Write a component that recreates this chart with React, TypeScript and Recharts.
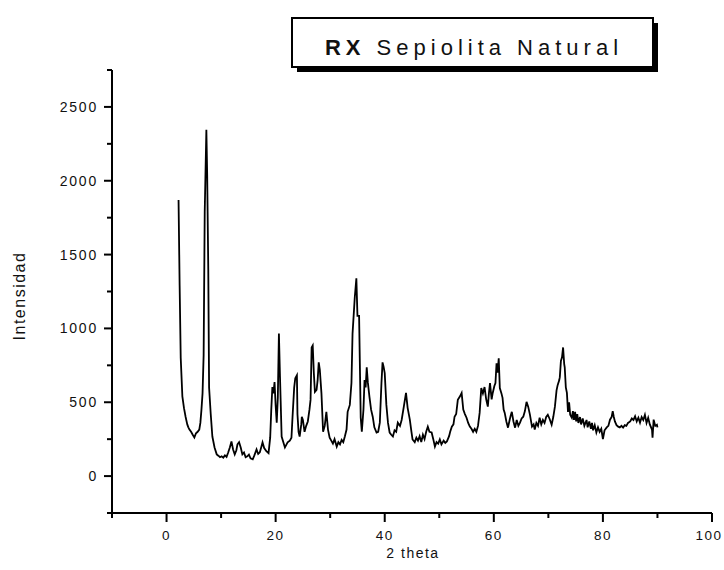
import React from 'react';
import { LineChart, Line, XAxis, YAxis } from 'recharts';

// difractograma de la sepiolita natural: [2 theta, intensidad]
const scanLow: [number, number][] = [
  [2.2, 1870], [2.4, 1290], [2.6, 800], [2.9, 540], [3.2, 460], [3.5, 400],
  [3.8, 350], [4.0, 330], [4.2, 315], [4.5, 300], [4.8, 280], [5.1, 262],
  [5.4, 290], [5.7, 300], [6.0, 315], [6.2, 360], [6.4, 450], [6.6, 560],
  [6.8, 820], [7.0, 1790], [7.3, 2345], [7.45, 2040], [7.65, 1400], [7.8, 600],
  [8.1, 420], [8.4, 268], [8.8, 194], [9.2, 147],
];

const scanMid: [number, number][] = [
  [9.5, 138], [9.8, 128], [10.1, 134], [10.4, 125], [10.7, 140], [11.0, 130],
  [11.3, 160], [11.6, 194], [11.9, 235], [12.2, 180], [12.5, 147], [12.8, 175],
  [13.0, 215], [13.3, 230], [13.6, 194], [13.9, 147], [14.2, 160], [14.5, 128],
  [14.8, 134], [15.1, 145], [15.4, 120], [15.8, 114], [16.1, 140], [16.5, 181],
  [16.8, 150], [17.1, 161], [17.4, 200], [17.6, 228], [17.9, 190], [18.3, 168],
  [18.7, 155], [19.0, 260], [19.2, 450], [19.4, 603], [19.6, 560], [19.8, 636],
  [20.0, 480], [20.2, 362], [20.4, 530], [20.6, 965], [20.8, 670], [21.1, 268],
  [21.4, 230], [21.7, 194], [22.0, 215], [22.2, 228], [22.6, 240], [22.9, 260],
  [23.1, 402], [23.4, 600], [23.6, 663], [23.9, 683], [24.0, 420], [24.2, 300],
  [24.4, 268], [24.7, 350], [24.8, 402], [25.0, 380], [25.3, 300], [25.6, 340],
  [25.9, 370], [26.2, 450], [26.4, 516], [26.6, 871], [26.8, 884], [27.0, 700],
  [27.2, 570], [27.5, 583], [27.7, 650], [27.9, 770], [28.1, 720], [28.4, 560],
  [28.7, 300], [29.0, 340], [29.3, 435], [29.6, 315], [29.9, 260],
];

const scanHigh: [number, number][] = [
  [30.2, 240], [30.5, 220], [30.8, 250], [31.2, 200], [31.5, 230], [31.8, 215],
  [32.1, 245], [32.4, 230], [32.7, 270], [33.0, 315], [33.2, 435], [33.6, 482],
  [33.9, 630], [34.1, 965], [34.5, 1206], [34.8, 1340], [35.0, 1085], [35.3, 1085],
  [35.6, 395], [35.8, 300], [36.1, 450], [36.3, 650], [36.5, 600], [36.7, 737],
  [36.9, 636], [37.2, 536], [37.5, 450], [37.8, 402], [38.1, 330], [38.5, 295],
  [38.8, 300], [39.1, 362], [39.4, 630], [39.6, 770], [39.8, 740], [40.0, 697],
  [40.3, 482], [40.6, 360], [40.9, 295], [41.2, 280], [41.5, 268], [41.8, 310],
  [42.1, 300], [42.4, 362], [42.8, 340], [43.1, 380], [43.5, 470], [43.9, 563],
  [44.2, 462], [44.6, 382], [44.9, 300], [45.1, 248], [45.5, 230], [45.8, 260],
  [46.1, 240], [46.4, 270], [46.7, 230], [47.0, 280], [47.3, 250], [47.6, 300],
  [47.9, 335], [48.2, 300], [48.6, 295], [48.9, 250], [49.2, 200], [49.5, 230],
  [49.8, 220], [50.1, 248], [50.4, 215], [50.8, 240], [51.1, 225], [51.4, 235],
  [51.8, 270], [52.0, 300], [52.3, 335], [52.6, 350], [52.8, 402], [53.1, 420],
  [53.4, 516], [53.8, 540], [54.1, 563], [54.4, 450], [54.7, 420], [55.0, 395],
  [55.3, 360], [55.6, 335], [55.9, 320], [56.2, 300], [56.5, 320], [56.8, 300],
  [57.1, 340], [57.4, 428], [57.7, 596], [58.0, 560], [58.3, 603], [58.6, 520],
  [58.9, 470], [59.1, 560], [59.3, 630], [59.6, 520], [59.8, 563],
];

const scanTail: [number, number][] = [
  [60.1, 610], [60.3, 630], [60.5, 764], [60.7, 700], [60.9, 797], [61.1, 596],
  [61.4, 560], [61.6, 530], [61.8, 450], [62.0, 428], [62.3, 370], [62.6, 328],
  [62.9, 380], [63.1, 410], [63.3, 435], [63.6, 370], [63.9, 328], [64.2, 380],
  [64.5, 340], [64.8, 362], [65.1, 390], [65.4, 402], [65.7, 440], [66.0, 503],
  [66.3, 470], [66.6, 420], [67.0, 335], [67.3, 350], [67.5, 315], [67.8, 360],
  [68.1, 340], [68.4, 395], [68.7, 350], [69.0, 380], [69.3, 360], [69.6, 400],
  [69.9, 415], [70.2, 390], [70.6, 348], [70.9, 400], [71.2, 470], [71.5, 580],
  [71.7, 616], [72.0, 650], [72.1, 670], [72.3, 780], [72.5, 804], [72.7, 871],
  [72.9, 760], [73.0, 737], [73.2, 600], [73.4, 563], [73.6, 435], [73.8, 500],
  [74.0, 415], [74.3, 395], [74.5, 440], [74.7, 380], [74.9, 435], [75.1, 370],
  [75.3, 420], [75.5, 360], [75.8, 400], [76.0, 350], [76.3, 390], [76.6, 340],
  [77.0, 380], [77.2, 330], [77.5, 370], [77.8, 320], [78.0, 360], [78.2, 310],
  [78.5, 345], [78.8, 295], [79.1, 330], [79.4, 300], [79.7, 320], [80.0, 250],
  [80.3, 310], [80.7, 330], [81.0, 340], [81.3, 382], [81.6, 400], [81.8, 440],
  [82.0, 400], [82.2, 370], [82.5, 345], [82.8, 335], [83.1, 330], [83.4, 340],
  [83.7, 328], [84.0, 345], [84.3, 340], [84.6, 360], [85.0, 370], [85.3, 390],
  [85.6, 380], [85.9, 405], [86.2, 370], [86.5, 395], [86.8, 362], [87.1, 400],
  [87.4, 380], [87.7, 415], [88.0, 360], [88.3, 395], [88.6, 350], [89.0, 315],
  [89.1, 260], [89.3, 382], [89.6, 340], [89.9, 348], [90.0, 330],
];

const xTicks = [-10, 0, 10, 20, 30, 40, 50, 60, 70, 80, 90, 100];
const yTicks = [-250, 0, 250, 500, 750, 1000, 1250, 1500, 1750, 2000, 2250, 2500, 2750];

const data = [...scanLow, ...scanMid, ...scanHigh, ...scanTail].map(([t, i]) => ({ t, i }));

const font = '"Liberation Sans", Arial, sans-serif';

const XTick = (props: any) => {
  const { x, y, payload } = props;
  const major = payload.value % 20 === 0;
  // el "100" queda pegado al borde derecho
  const dx = payload.value === 100 ? -3 : 0;
  return (
    <g>
      <line x1={x} x2={x} y1={y} y2={y + (major ? 9 : 5)} stroke="#000" strokeWidth={2} />
      {major && (
        <text x={x + dx} y={y + 27} textAnchor="middle" fontFamily={font} fontSize={13.5}
          letterSpacing={1.5} fill="#111">
          {payload.value}
        </text>
      )}
    </g>
  );
};

const YTick = (props: any) => {
  const { x, y, payload } = props;
  const major = payload.value % 500 === 0;
  return (
    <g>
      <line x1={x} x2={x - (major ? 8 : 5)} y1={y} y2={y} stroke="#000" strokeWidth={2} />
      {major && (
        <text x={x - 14} y={y + 5} textAnchor="end" fontFamily={font} fontSize={14}
          letterSpacing={1.8} fill="#111">
          {payload.value}
        </text>
      )}
    </g>
  );
};

export default function App() {
  return (
    <div style={{ position: 'absolute', left: 0, top: 0, width: 724, height: 570, background: '#fff' }}>
      <LineChart width={724} height={570} data={data} margin={{ top: 70, right: 12, left: 52, bottom: 7 }}>
        <XAxis
          type="number"
          dataKey="t"
          domain={[-10, 100]}
          ticks={xTicks}
          interval={0}
          tickLine={false}
          tickSize={0}
          tickMargin={0}
          axisLine={{ stroke: '#000', strokeWidth: 2 }}
          tick={(p: any) => <XTick {...p} />}
          height={50}
        />
        <YAxis
          type="number"
          domain={[-250, 2750]}
          ticks={yTicks}
          interval={0}
          tickLine={false}
          tickSize={0}
          tickMargin={0}
          axisLine={{ stroke: '#000', strokeWidth: 2 }}
          tick={(p: any) => <YTick {...p} />}
          width={60}
          allowDataOverflow
        />
        <Line
          type="linear"
          dataKey="i"
          stroke="#000"
          strokeWidth={1.8}
          dot={false}
          isAnimationActive={false}
        />
      </LineChart>
      <svg width={724} height={570} style={{ position: 'absolute', left: 0, top: 0, pointerEvents: 'none' }}>
        <rect x={297} y={23} width={361} height={49} fill="#000" />
        <rect x={292} y={18} width={361} height={49} fill="#fff" stroke="#000" strokeWidth={2} />
        <text x={474} y={55} textAnchor="middle" fontFamily={font} fontSize={22} letterSpacing={5} fill="#111">
          <tspan fontWeight="bold">RX</tspan>
          <tspan> Sepiolita Natural</tspan>
        </text>
        <text x={413} y={558} textAnchor="middle" fontFamily={font} fontSize={14} letterSpacing={1.5} fill="#111">
          2 theta
        </text>
        <text
          transform="translate(25, 296) rotate(-90)"
          textAnchor="middle"
          fontFamily={font}
          fontSize={16}
          letterSpacing={1.5}
          fill="#111"
        >
          Intensidad
        </text>
      </svg>
    </div>
  );
}
